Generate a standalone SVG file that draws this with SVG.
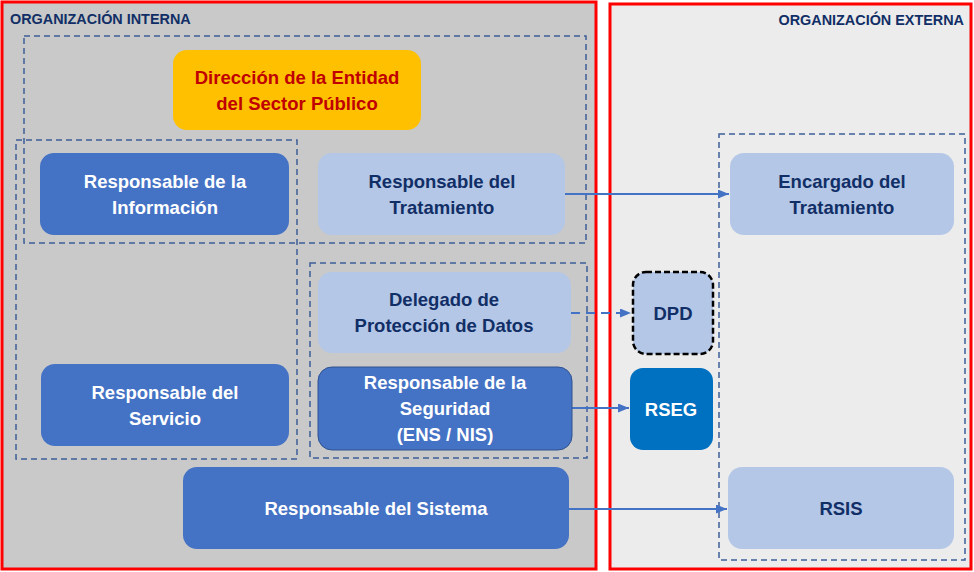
<svg xmlns="http://www.w3.org/2000/svg" width="974" height="572" viewBox="0 0 974 572">
<style>
text{font-family:"Liberation Sans",Arial,sans-serif;font-weight:bold;text-anchor:middle}
.panel{stroke:#ff0000;stroke-width:3}
.grp{fill:none;stroke:#3e5e98;stroke-width:1.5;stroke-dasharray:6 4}
.dark{fill:#4472c4}
.light{fill:#b4c7e7}
.wt{fill:#ffffff;font-size:18.5px}
.nt{fill:#112f66;font-size:18.5px}
.hd{fill:#112f66;font-size:14.4px}
.conn{stroke:#4472c4;stroke-width:2;fill:none}
</style>
<defs>
<marker id="ah" markerWidth="11" markerHeight="9" refX="11" refY="4.5" orient="auto" markerUnits="userSpaceOnUse">
<path d="M0,0 L11,4.5 L0,9 Z" fill="#4472c4"/>
</marker>
</defs>
<rect width="974" height="572" fill="#ffffff"/>
<g id="panel-interna">
<rect class="panel" x="2" y="2" width="594" height="567" fill="#c9c9c9"/>
<text class="hd" x="10" y="24" style="text-anchor:start">ORGANIZACIÓN INTERNA</text>
</g>
<g id="panel-externa">
<rect class="panel" x="610" y="4" width="361" height="565" fill="#ececec"/>
<text class="hd" x="964" y="25" style="text-anchor:end">ORGANIZACIÓN EXTERNA</text>
</g>
<g id="groups">
<rect class="grp" x="24" y="36" width="562" height="207"/>
<rect class="grp" x="16" y="140" width="281" height="319"/>
<rect class="grp" x="310" y="263" width="277" height="195"/>
<rect class="grp" x="719" y="134" width="246" height="426"/>
</g>
<g id="connectors">
<line class="conn" x1="565" y1="194" x2="729" y2="194" marker-end="url(#ah)"/>
<line class="conn" x1="571" y1="313" x2="631" y2="313" stroke-dasharray="9 6" marker-end="url(#ah)"/>
<line class="conn" x1="572" y1="408" x2="629" y2="408" marker-end="url(#ah)"/>
<line class="conn" x1="569" y1="509" x2="727" y2="509" marker-end="url(#ah)"/>
</g>
<g id="direccion">
<rect x="173" y="50" width="248" height="80" rx="14" fill="#ffc000"/>
<text x="297" y="84" font-size="18.5" fill="#c00000">Dirección de la Entidad</text>
<text x="297" y="110" font-size="18.5" fill="#c00000">del Sector Público</text>
</g>
<g id="resp-informacion">
<rect class="dark" x="40" y="153" width="249" height="82" rx="14"/>
<text class="wt" x="165" y="188">Responsable de la</text>
<text class="wt" x="165" y="214">Información</text>
</g>
<g id="resp-tratamiento">
<rect class="light" x="318" y="153" width="247" height="82" rx="14"/>
<text class="nt" x="442" y="188">Responsable del</text>
<text class="nt" x="442" y="214">Tratamiento</text>
</g>
<g id="encargado-tratamiento">
<rect class="light" x="730" y="153" width="224" height="82" rx="14"/>
<text class="nt" x="842" y="188">Encargado del</text>
<text class="nt" x="842" y="214">Tratamiento</text>
</g>
<g id="delegado">
<rect class="light" x="318" y="272" width="253" height="81" rx="14"/>
<text class="nt" x="444" y="306">Delegado de</text>
<text class="nt" x="444" y="332">Protección de Datos</text>
</g>
<g id="dpd">
<rect x="633" y="272" width="80" height="82" rx="13" fill="#b4c7e7" stroke="#000000" stroke-width="2.5" stroke-dasharray="6 3"/>
<text class="nt" x="673" y="320">DPD</text>
</g>
<g id="resp-seguridad">
<rect class="dark" x="318" y="367" width="254" height="83" rx="14" stroke="#2f528f" stroke-width="1"/>
<text class="wt" x="445" y="389">Responsable de la</text>
<text class="wt" x="445" y="415">Seguridad</text>
<text class="wt" x="445" y="441">(ENS / NIS)</text>
</g>
<g id="rseg">
<rect x="630" y="368" width="83" height="82" rx="13" fill="#0070c0"/>
<text class="wt" x="671" y="416">RSEG</text>
</g>
<g id="resp-servicio">
<rect class="dark" x="41" y="364" width="248" height="82" rx="14"/>
<text class="wt" x="165" y="399">Responsable del</text>
<text class="wt" x="165" y="425">Servicio</text>
</g>
<g id="resp-sistema">
<rect class="dark" x="183" y="467" width="386" height="82" rx="14"/>
<text class="wt" x="376" y="515">Responsable del Sistema</text>
</g>
<g id="rsis">
<rect class="light" x="728" y="467" width="226" height="82" rx="14"/>
<text class="nt" x="841" y="515">RSIS</text>
</g>
</svg>
